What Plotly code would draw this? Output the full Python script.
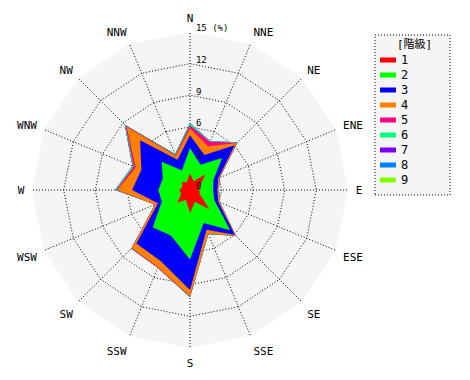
import numpy as np
import plotly.graph_objects as go

directions = ["N", "NNE", "NE", "ENE", "E", "ESE", "SE", "SSE",
              "S", "SSW", "SW", "WSW", "W", "WNW", "NW", "NNW"]

class_labels = ["1", "2", "3", "4", "5", "6", "7", "8", "9"]

class1 = [1.6, 0.9, 2.1, 1.0, 0.9, 1.0, 2.6, 1.2, 2.2, 1.0, 1.7, 0.9, 1.0, 0.8, 1.1, 0.8]
class2 = [2.4, 1.7, 2.2, 1.4, 1.3, 1.5, 2.8, 2.2, 4.4, 3.7, 3.3, 2.0, 2.0, 2.0, 2.7, 1.2]
class3 = [1.2, 1.0, 1.7, 0.5, 0.4, 0.4, 0.6, 0.7, 2.9, 2.6, 2.2, 0.4, 2.5, 2.2, 2.9, 1.1]
class4 = [0.65, 0.9, 0.3, 0.1, 0.1, 0.15, 0.1, 0.4, 0.6, 0.65, 0.6, 0.3, 1.4, 0.6, 1.8, 0.4]
class5 = [0.3, 0.45, 0.05, 0.05, 0.0, 0.0, 0.05, 0.0, 0.05, 0.05, 0.05, 0.0, 0.1, 0.2, 0.15, 0.1]
class6 = [0.2, 0.05, 0.05, 0.0, 0.05, 0.05, 0.0, 0.05, 0.05, 0.0, 0.05, 0.0, 0.1, 0.1, 0.1, 0.1]
class7 = [0.02, 0.0, 0.0, 0.0, 0.0, 0.0, 0.0, 0.0, 0.0, 0.0, 0.0, 0.0, 0.02, 0.02, 0.02, 0.0]
class8 = [0.0, 0.0, 0.0, 0.0, 0.0, 0.0, 0.0, 0.0, 0.0, 0.0, 0.0, 0.0, 0.0, 0.0, 0.0, 0.0]
class9 = [0.0, 0.0, 0.0, 0.0, 0.0, 0.0, 0.0, 0.0, 0.0, 0.0, 0.0, 0.0, 0.0, 0.0, 0.0, 0.0]

radial_ticks = [0, 3, 6, 9, 12, 15]
radial_ticktext = ["0", "3", "6", "9", "12", "15 (%)"]

colors = ["#FF0000", "#00FF00", "#0000FF", "#FF8000", "#FF0080",
          "#00FF80", "#8000FF", "#0080FF", "#80FF00"]

values = np.array([class1, class2, class3, class4, class5, class6, class7, class8, class9])
cum = np.cumsum(values, axis=0)

FONT = "DejaVu Sans Mono, Noto Sans CJK JP, monospace"
DOT = "1px,2px"
RMAX = 15.01
LABEL_LIFT = 0.35   # radial labels sit just above their ring
RMAX2 = 16.0        # overlay range (same px-per-unit scale, larger domain)

fig = go.Figure()
th = directions + [directions[0]]
for k in reversed(range(len(class_labels))):
    r = list(cum[k]) + [cum[k][0]]
    fig.add_trace(go.Scatterpolar(
        r=r, theta=th, mode="lines", fill="toself",
        fillcolor=colors[k], line=dict(width=0, color=colors[k]),
        showlegend=False, hoverinfo="skip", name=class_labels[k]))
# overlay subplot used only to carry the radial tick labels
fig.add_trace(go.Scatterpolar(r=[None], theta=[None], subplot="polar2",
                              mode="lines", showlegend=False, hoverinfo="skip"))

W, H = 470, 380
CX, CY, R = 190, 190, 158
dom = dict(x=[(CX - R) / W, (CX + R) / W], y=[1 - (CY + R) / H, 1 - (CY - R) / H])
R2 = R * RMAX2 / RMAX
dom2 = dict(x=[(CX - R2) / W, (CX + R2) / W], y=[1 - (CY + R2) / H, 1 - (CY - R2) / H])

# manual legend (box, title, swatches, labels)
LX0, LX1, LY0, LY1 = 375, 450, 35, 195
shapes = [dict(type="rect", xref="paper", yref="paper",
               x0=LX0 / W, x1=LX1 / W, y0=1 - LY1 / H, y1=1 - LY0 / H,
               line=dict(color="black", width=1, dash=DOT),
               fillcolor="#f5f5f5", layer="below")]
annotations = [dict(text="[階級]", xref="paper", yref="paper",
                    x=414 / W, y=1 - 44 / H, xanchor="center", yanchor="middle",
                    showarrow=False, font=dict(size=11, family=FONT, color="black"))]
for i, lab in enumerate(class_labels):
    yc = 60 + 15 * i
    shapes.append(dict(type="rect", xref="paper", yref="paper",
                       x0=380 / W, x1=396 / W, y0=1 - (yc + 2.5) / H, y1=1 - (yc - 2.5) / H,
                       line=dict(width=0), fillcolor=colors[i], layer="above"))
    annotations.append(dict(text=lab, xref="paper", yref="paper",
                            x=399 / W, y=1 - yc / H, xanchor="left", yanchor="middle",
                            showarrow=False, font=dict(size=12, family=FONT, color="black")))

fig.update_layout(
    width=W, height=H,
    margin=dict(l=0, r=0, t=0, b=0),
    paper_bgcolor="white",
    plot_bgcolor="white",
    showlegend=False,
    font=dict(family=FONT, size=11, color="black"),
    polar=dict(
        domain=dom,
        bgcolor="#f5f5f5",
        gridshape="linear",
        radialaxis=dict(
            range=[0, RMAX], tickvals=radial_ticks, showticklabels=False,
            angle=90, showline=False, ticks="",
            gridcolor="black", griddash=DOT, gridwidth=1,
            layer="above traces"),
        angularaxis=dict(
            type="category", categoryarray=directions,
            direction="clockwise", rotation=90,
            gridcolor="black", griddash=DOT, gridwidth=1,
            showline=False, ticks="outside", ticklen=5,
            tickcolor="rgba(0,0,0,0)", layer="above traces",
            tickfont=dict(size=11, family=FONT, color="black")),
    ),
    polar2=dict(
        domain=dom2,
        bgcolor="rgba(0,0,0,0)",
        gridshape="linear",
        radialaxis=dict(
            range=[0, RMAX2], tickvals=[v + LABEL_LIFT for v in radial_ticks],
            ticktext=["\u00a0" + t for t in radial_ticktext],
            angle=90, tickangle=90, showline=False, showgrid=False, ticks="",
            layer="above traces",
            tickfont=dict(size=9, family=FONT, color="black")),
        angularaxis=dict(
            type="category", categoryarray=directions,
            direction="clockwise", rotation=90,
            visible=False, showgrid=False, showline=False),
    ),
    shapes=shapes,
    annotations=annotations,
)

fig.write_html("out.html", config={"displayModeBar": False},
               post_script="document.body.style.margin='0px';")
